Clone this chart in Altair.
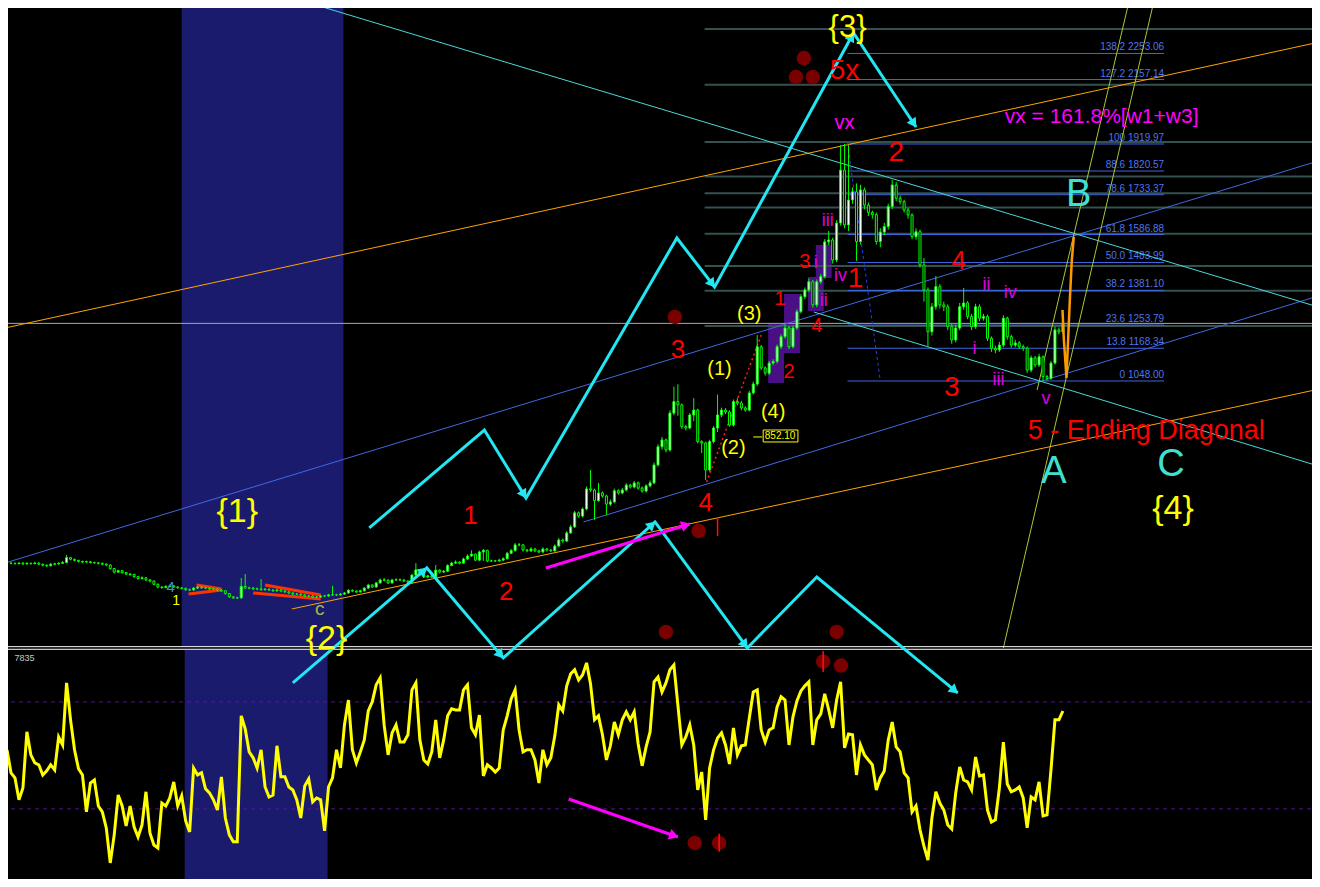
import math
import altair as alt
import pandas as pd

# ------------------------------------------------------------------
# DATA  (x = bar index, y = price for the upper pane, oscillator value below)
# ------------------------------------------------------------------
first_open = 378
close = [
    378, 377, 376, 378, 375, 377, 376, 378, 374, 370,
    368, 374, 375, 377, 380, 398, 392, 388, 384, 382,
    383, 380, 379, 377, 374, 371, 358, 345, 350, 343,
    338, 336, 328, 321, 324, 316, 312, 300, 290, 288,
    292, 294, 290, 287, 285, 280, 279, 286, 290, 287,
    286, 283, 282, 279, 276, 266, 254, 250, 250, 292,
    286, 286, 283, 283, 280, 282, 279, 276, 279, 275,
    272, 268, 264, 264, 261, 257, 257, 253, 253, 257,
    257, 261, 261, 261, 264, 268, 278, 275, 272, 276,
    286, 297, 290, 305, 316, 315, 305, 316, 317, 316,
    312, 308, 334, 353, 334, 327, 331, 327, 352, 345,
    348, 369, 378, 382, 378, 393, 404, 411, 389, 419,
    425, 386, 386, 386, 389, 394, 414, 424, 445, 445,
    426, 423, 430, 423, 419, 430, 426, 423, 441, 463,
    459, 489, 511, 563, 551, 577, 651, 647, 608, 636,
    625, 595, 603, 644, 636, 647, 665, 658, 673, 654,
    643, 662, 673, 739, 806, 831, 794, 930, 972, 960,
    880, 875, 923, 941, 825, 820, 721, 825, 875, 923,
    941, 934, 886, 972, 967, 949, 941, 1004, 1037, 1174,
    1096, 1077, 1114, 1120, 1174, 1211, 1243, 1174, 1243, 1303,
    1358, 1383, 1413, 1328, 1413, 1432, 1560, 1567, 1493, 1629,
    1824, 1622, 1714, 1744, 1561, 1751, 1695, 1668, 1660, 1561,
    1596, 1616, 1690, 1769, 1720, 1708, 1677, 1659, 1579, 1597,
    1475, 1383, 1229, 1321, 1395, 1328, 1321, 1248, 1199, 1243,
    1321, 1335, 1285, 1248, 1321, 1279, 1285, 1205, 1168, 1162,
    1180, 1279, 1211, 1180, 1188, 1174, 1169, 1088, 1133, 1107,
    1137, 1064, 1058, 1114, 1236, 1229, 1261,
]
high = [
    382, 381, 380, 382, 381, 381, 380, 383, 381, 376,
    373, 378, 379, 381, 386, 408, 400, 394, 390, 387,
    387, 386, 383, 382, 380, 377, 373, 360, 354, 352,
    346, 341, 339, 331, 329, 327, 319, 314, 303, 293,
    297, 299, 297, 293, 290, 288, 284, 290, 294, 293,
    291, 289, 287, 285, 282, 279, 268, 257, 254, 323,
    338, 291, 290, 288, 319, 287, 285, 282, 284, 282,
    279, 275, 271, 268, 267, 264, 261, 260, 257, 261,
    261, 265, 294, 265, 268, 272, 282, 281, 278, 280,
    290, 302, 300, 309, 321, 323, 318, 320, 322, 321,
    319, 315, 338, 378, 356, 337, 335, 334, 371, 356,
    353, 374, 383, 388, 385, 398, 410, 425, 413, 424,
    430, 427, 391, 390, 394, 399, 419, 430, 452, 452,
    448, 430, 436, 434, 427, 436, 434, 430, 447, 470,
    468, 496, 519, 570, 568, 583, 660, 720, 652, 673,
    642, 630, 612, 652, 650, 655, 672, 670, 680, 678,
    660, 668, 682, 748, 815, 842, 836, 940, 1027, 1036,
    965, 887, 930, 985, 946, 830, 824, 832, 882, 998,
    950, 948, 940, 980, 985, 975, 955, 1012, 1046, 1217,
    1180, 1102, 1122, 1128, 1182, 1220, 1255, 1250, 1252, 1312,
    1368, 1392, 1425, 1420, 1422, 1442, 1570, 1600, 1575, 1640,
    1916, 1920, 1916, 1760, 1775, 1770, 1760, 1705, 1675, 1668,
    1610, 1630, 1700, 1788, 1780, 1730, 1715, 1685, 1665, 1610,
    1605, 1500, 1392, 1335, 1434, 1405, 1340, 1330, 1258, 1255,
    1335, 1390, 1342, 1295, 1332, 1330, 1295, 1292, 1212, 1178,
    1192, 1290, 1285, 1218, 1200, 1195, 1182, 1175, 1142, 1140,
    1148, 1142, 1070, 1122, 1248, 1245, 1275,
]
low = [
    374, 373, 372, 373, 371, 372, 372, 373, 370, 366,
    363, 366, 371, 372, 375, 378, 388, 384, 380, 378,
    379, 376, 375, 373, 370, 366, 354, 340, 341, 339,
    334, 331, 324, 317, 318, 311, 307, 296, 285, 283,
    285, 289, 286, 283, 281, 276, 275, 276, 283, 283,
    282, 279, 278, 275, 272, 262, 250, 246, 246, 247,
    282, 282, 279, 279, 276, 277, 275, 272, 273, 271,
    268, 264, 260, 260, 257, 253, 253, 249, 249, 250,
    253, 254, 257, 257, 258, 261, 265, 271, 268, 269,
    273, 283, 286, 288, 302, 311, 301, 302, 312, 312,
    308, 304, 305, 331, 330, 323, 323, 323, 324, 340,
    341, 345, 366, 375, 373, 375, 390, 401, 385, 386,
    386, 381, 382, 382, 383, 386, 391, 411, 420, 440,
    420, 418, 419, 418, 414, 415, 421, 418, 420, 437,
    453, 455, 485, 507, 545, 546, 572, 640, 537, 603,
    618, 555, 588, 598, 630, 631, 642, 652, 653, 648,
    637, 638, 657, 668, 733, 795, 785, 788, 922, 920,
    872, 866, 870, 900, 818, 783, 684, 715, 818, 860,
    915, 926, 880, 880, 958, 940, 935, 936, 998, 1030,
    1088, 1068, 1070, 1106, 1112, 1166, 1204, 1165, 1168, 1236,
    1296, 1350, 1376, 1318, 1320, 1405, 1425, 1548, 1480, 1485,
    1620, 1610, 1600, 1700, 1490, 1550, 1680, 1655, 1645, 1550,
    1540, 1585, 1605, 1680, 1710, 1698, 1668, 1645, 1570, 1568,
    1465, 1340, 1174, 1215, 1310, 1315, 1305, 1235, 1185, 1190,
    1235, 1310, 1275, 1235, 1240, 1268, 1270, 1195, 1155, 1150,
    1155, 1172, 1200, 1170, 1172, 1165, 1158, 1078, 1080, 1098,
    1100, 1048, 1050, 1052, 1108, 1220, 1222,
]
osc = [
    52, 43.5, 41.6, 33.4, 37.8, 58.8, 50.2, 47.2, 46.5, 42.7,
    44.2, 46.5, 44.6, 56.9, 53.9, 77.1, 63.3, 52.1, 45, 42.7,
    28.9, 39.7, 40.8, 31.1, 28.9, 22.9, 9.8, 20.3, 35.2, 31.1,
    23.6, 31.1, 23.3, 19.5, 24, 36.4, 21, 16.5, 15.4, 32.2,
    31.1, 34.1, 40.1, 31.1, 34.9, 25.5, 21.4, 45.3, 42.7, 43.5,
    37.5, 36, 33.4, 29.6, 42, 26.6, 20.3, 17.7, 17.7, 64.8,
    59.9, 51.3, 49.1, 45.3, 52.1, 38.2, 34.5, 35.2, 53.6, 42,
    42, 38.2, 37.1, 33.4, 26.6, 38.6, 41.2, 32.6, 34.1, 33.4,
    21.8, 38.2, 41.6, 52.1, 45.3, 61.4, 70.7, 52.1, 47.2, 51.3,
    55.8, 66.6, 70, 76.4, 79, 61.4, 50.2, 58.4, 61.4, 55,
    55, 57.7, 74.5, 77.1, 55.8, 48.3, 46.8, 51.3, 63.3, 49.1,
    55.8, 64.8, 67.4, 67, 67, 74.5, 76.4, 60.3, 57.7, 65.1,
    42.3, 46.5, 45.3, 43.8, 45.3, 59.5, 64.8, 71.1, 74.5, 59.5,
    51.3, 52.1, 52.1, 48.3, 39.7, 52.1, 46.5, 49.1, 57.3, 68.9,
    66.6, 76, 80.5, 82, 78.2, 80.1, 84.6, 76.7, 63.3, 64.8,
    57.7, 48.3, 53.6, 62.5, 57.7, 63.3, 66.3, 63.3, 66.3, 54.3,
    46.1, 53.2, 58.8, 77.5, 79.3, 73.7, 77.1, 82, 83.8, 68.9,
    53.9, 56.9, 61.4, 53.9, 37.1, 43.8, 25.9, 45.3, 52.1, 56.5,
    58.4, 53.9, 46.8, 60.3, 50.2, 53.6, 53.9, 64, 73.7, 74.5,
    59.5, 55, 59.5, 60.3, 68.1, 71.9, 70.7, 53.9, 64.4, 70.4,
    74.1, 76, 77.5, 53.9, 63.3, 65.5, 73, 67, 60.3, 70.7,
    77.5, 52.8, 58, 57.7, 42.7, 53.9, 50.2, 48.3, 46.5, 37.1,
    41.6, 44.2, 55.8, 62.5, 53.2, 51.3, 43.5, 41.6, 28.9, 31.1,
    22.2, 16.1, 10.9, 26.6, 36.4, 32.2, 29.6, 24, 22.5, 36,
    45.7, 40.8, 40.1, 37.1, 49.4, 42.3, 42.7, 29.6, 25.1, 25.9,
    37.8, 55, 39.3, 36.4, 37.1, 38.2, 34.1, 22.9, 34.5, 33.4,
    40.1, 27.4, 27.8, 44.6, 63.3, 63.3, 66.6,
]
osc_levels = [70, 30]

# Fibonacci retracement tool
fib_pct = ["0", "13.8", "23.6", "38.2", "50.0", "61.8", "78.6", "88.6", "100", "127.2", "138.2"]
fib_price = [1048.00, 1168.34, 1253.79, 1381.10, 1483.99, 1586.88, 1733.37, 1820.57, 1919.97, 2157.14, 2253.06]
fib_span = (211.75, 291.5)
grid_price = [2343, 2138, 1927, 1800, 1739, 1686, 1590, 1471, 1380, 1250]
grid_span = (175.75, 330)
hline_price = 1260
hline_span = (-1, 330)

# trend lines / drawn objects: (bar index, price)
channel_upper = [(-0.5, 378.4), (329.5, 1853.7)]
channel_lower = [(145.25, 529.3), (329.5, 1357.0)]
orange_upper = [(-0.5, 1243.0), (329.5, 2291.5)]
orange_lower = [(71.75, 209.2), (329.5, 1014.9)]
cyan_upper = [(74.5, 2446.0), (329.5, 1324.0)]
cyan_lower = [(203.25, 1301.9), (329.5, 739.0)]
fan_1 = [(259.5, 1014.9), (282.75, 2449.7)]
fan_2 = [(251.0, 65.7), (289.0, 2449.7)]
peak_drop = [(211.75, 1923.6), (220.0, 1048.0)]
wave_dotted = [(176.25, 676.0), (190.0, 1217.0)]
live_path = [(265.9, 1309), (266.25, 1199), (266.9, 1059), (267.75, 1346), (268.25, 1493), (268.75, 1578)]
wedge_lines = [
    [(45.75, 264), (54.0, 279)],
    [(47.75, 297.5), (54.0, 283)],
    [(62.0, 268), (79.0, 246)],
    [(65.0, 297.5), (79.0, 260.7)],
]
zigzag_upper = [(91.25, 507.2), (120.25, 867.7), (130.75, 617.6), (168.75, 1574.0),
                (178.25, 1393.8), (213.25, 2328.3), (229.0, 1982.5)]
zigzag_upper_heads = [2, 4, 5, 6]
zigzag_lower = [(72.0, -63.0), (105.75, 360.0), (125.0, 28.9), (163.25, 529.3),
                (186.5, 65.7), (204.0, 326.9), (239.5, -99.8)]
zigzag_lower_heads = [1, 2, 3, 4, 6]
magenta_top = [(135.75, 360.0), (172.0, 522.0)]
magenta_osc = [(141.5, 33.7), (169.0, 19.5)]

dots_price = [(200.75, 2236.3), (198.75, 2166.4), (203.0, 2166.4), (168.25, 1283.5),
              (174.25, 496.2), (166.0, 124.6), (209.0, 124.6)]
dots_osc = [(173.25, 17.3), (179.4, 17.3), (205.6, 85.1), (210.1, 83.6)]
ticks_price = [(179.0, 478.0, 547.7)]
ticks_osc = [(179.4, 14.0, 20.7), (205.6, 81.2, 89.0)]

wave_boxes = [(191.75, 195.75, 1040.6, 1257.7), (195.75, 199.75, 1151.0, 1368.0),
              (201.75, 205.75, 1305.5, 1430.6), (203.75, 207.75, 1427.0, 1548.3)]
band_price = (44.0, 84.75, 70.5, 2460.0)
band_osc = (44.75, 80.75, 0.0, 89.4)
sep_price = [70.5, 60.9]

price_tag = ("852.10", 194.75, 845.7)
price_tag_box = (190.5, 199.25, 823.6, 867.7)
price_tag_dash = [(188.0, 842.0), (190.25, 842.0)]

labels = [
    ("{3}", 211.75, 2345, "brace_top"), ("{1}", 58.0, 566, "brace"),
    ("{2}", 80.5, 100, "brace"), ("{4}", 293.75, 577, "brace"),
    ("(3)", 187.0, 1294.5, "paren"), ("(1)", 179.5, 1092, "paren"),
    ("(4)", 193.0, 934, "paren"), ("(2)", 183.0, 801.5, "paren"),
    ("c", 78.75, 210, "minor_c"), ("4", 41.2, 290, "minor_blue"),
    ("1", 42.6, 240, "minor_yellow"),
    ("5x", 211.0, 2188.5, "red_big"), ("2", 224.0, 1886.8, "red_big"),
    ("1", 213.75, 1423, "red_big"), ("4", 239.75, 1489.5, "red_mid"),
    ("3", 238.0, 1022, "red_big"), ("3", 169.0, 1162, "red_mid"),
    ("1", 116.75, 551, "red_mid"), ("2", 125.75, 271.7, "red_mid"),
    ("4", 176.0, 599, "red_mid"),
    ("1", 194.75, 1349.7, "red_small"), ("3", 201.0, 1485.8, "red_small"),
    ("2", 197.0, 1081, "red_small"), ("4", 204.0, 1250, "red_small"),
    ("5 - Ending Diagonal", 287.0, 864, "red_note"),
    ("vx", 211.0, 1997, "mag"), ("vx = 161.8%[w1+w3]", 275.75, 2019, "mag_note"),
    ("iii", 206.75, 1636.6, "mag_s"), ("iii", 249.75, 1051.7, "mag_s"),
    ("iv", 210.0, 1434, "mag_s"), ("i", 203.75, 1482, "mag_s"),
    ("ii", 205.75, 1342, "mag_s"), ("ii", 246.75, 1401, "mag_s"),
    ("iv", 252.75, 1371.8, "mag_s"), ("i", 243.75, 1165.7, "mag_s"),
    ("v", 261.75, 981.8, "mag_s"),
    ("B", 270.0, 1732, "abc"), ("A", 263.75, 713, "abc"), ("C", 293.25, 739, "abc"),
]
osc_labels = [("7835", 1.9, 86.4)]

# ------------------------------------------------------------------
# STYLES / SCALES
# ------------------------------------------------------------------
W, H = 1304, 871
FONT = "Liberation Sans"
X_DOM = [1.5, 327.5]
P_DOM = [-784.3, 2420.3]
O_DOM = [3.8, 329.4]
XS = alt.Scale(domain=X_DOM, nice=False, zero=False)
PS = alt.Scale(domain=P_DOM, nice=False, zero=False)
OS = alt.Scale(domain=O_DOM, nice=False, zero=False)
px_i = W / (X_DOM[1] - X_DOM[0])
px_p = H / (P_DOM[1] - P_DOM[0])
px_o = H / (O_DOM[1] - O_DOM[0])

label_styles = {
    "brace": ("#ffff00", 34), "brace_top": ("#ffff00", 31), "paren": ("#ffff00", 20),
    "minor_c": ("#a8b848", 19),
    "minor_blue": ("#3a8fe0", 15), "minor_yellow": ("#ffff00", 14),
    "red_big": ("#ff0000", 28), "red_mid": ("#ff0000", 26), "red_small": ("#ff0000", 20),
    "red_note": ("#ff0000", 27), "mag": ("#ff00ff", 20), "mag_note": ("#ff00ff", 21),
    "mag_s": ("#e000e0", 18), "abc": ("#40e0d0", 38),
}


def xq(f="i"):
    return alt.X(f"{f}:Q", scale=XS, axis=None)


def yp(f="p"):
    return alt.Y(f"{f}:Q", scale=PS, axis=None)


def yo(f="p"):
    return alt.Y(f"{f}:Q", scale=OS, axis=None)


def path_df(paths):
    rows = []
    for pid, pts in enumerate(paths):
        for k, (i, p) in enumerate(pts):
            rows.append({"id": pid, "k": k, "i": i, "p": p})
    return pd.DataFrame(rows)


def line_layer(paths, color, width, ych=yp, dash=None):
    kw = dict(color=color, strokeWidth=width, clip=True)
    if dash:
        kw["strokeDash"] = dash
    return alt.Chart(path_df(paths)).mark_line(**kw).encode(
        x=xq(), y=ych(), detail="id:N", order="k:Q")


def heads_df(pts, idxs, ppy):
    rows = []
    for k in idxs:
        (i0, p0), (i1, p1) = pts[k - 1], pts[k]
        dx = (i1 - i0) * px_i
        dy = -(p1 - p0) * ppy
        L = math.hypot(dx, dy)
        ux, uy = dx / L, dy / L
        ang = (math.degrees(math.atan2(ux, -uy)) + 360) % 360
        rows.append({"i": i1 - ux * 4 / px_i, "p": p1 + uy * 4 / ppy, "ang": ang})
    return pd.DataFrame(rows)


def head_layer(pts, idxs, color, ych=yp, ppy=px_p, size=120):
    return alt.Chart(heads_df(pts, idxs, ppy)).mark_point(
        shape="triangle-up", filled=True, size=size, color=color, opacity=1).encode(
        x=xq(), y=ych(), angle=alt.Angle("ang:Q", scale=None))


layers = []

# blue time band
layers.append(alt.Chart(pd.DataFrame([dict(zip(["i", "i2", "p", "p2"], band_price))]))
              .mark_rect(color="#1b1b6e", clip=True)
              .encode(x=xq(), x2="i2:Q", y=yp(), y2="p2:Q"))
layers.append(alt.Chart(pd.DataFrame([dict(zip(["i", "i2", "p", "p2"], band_osc))]))
              .mark_rect(color="#1b1b6e", clip=True)
              .encode(x=xq(), x2="i2:Q", y=yo(), y2="p2:Q"))

# purple wave boxes
layers.append(alt.Chart(pd.DataFrame(wave_boxes, columns=["i", "i2", "p", "p2"]))
              .mark_rect(color="#4b0f85")
              .encode(x=xq(), x2="i2:Q", y=yp(), y2="p2:Q"))

# grey level lines
layers.append(alt.Chart(pd.DataFrame({"p": grid_price, "i": grid_span[0], "i2": grid_span[1]}))
              .mark_rule(color="#34504f", strokeWidth=2, clip=True)
              .encode(x=xq(), x2="i2:Q", y=yp()))
layers.append(alt.Chart(pd.DataFrame({"p": [hline_price], "i": hline_span[0], "i2": hline_span[1]}))
              .mark_rule(color="#a8a8a8", strokeWidth=1, clip=True)
              .encode(x=xq(), x2="i2:Q", y=yp()))

# fibonacci
fib_df = pd.DataFrame({"p": fib_price, "i": fib_span[0], "i2": fib_span[1],
                       "t": [f"{a} {b:.2f}" for a, b in zip(fib_pct, fib_price)]})
layers.append(alt.Chart(fib_df).mark_rule(color="#3f66e0", strokeWidth=1)
              .encode(x=xq(), x2="i2:Q", y=yp()))
layers.append(alt.Chart(fib_df).mark_text(align="right", baseline="bottom", dy=-1, fontSize=10,
                                          font=FONT, color="#4f74ee")
              .encode(x=xq("i2"), y=yp(), text="t:N"))

# thin trend lines
layers.append(line_layer([channel_upper, channel_lower], "#4169e1", 1))
layers.append(line_layer([orange_upper, orange_lower], "#ffa500", 1))
layers.append(line_layer([cyan_upper, cyan_lower], "#4ad8d8", 1))
layers.append(line_layer([fan_1, fan_2], "#a8c838", 1))
layers.append(line_layer([peak_drop], "#2040ff", 1, dash=[3, 3]))
layers.append(line_layer([wave_dotted], "#ff2020", 1.5, dash=[2, 3]))
layers.append(line_layer(wedge_lines, "#ff3300", 3))

# oscillator pane
layers.append(alt.Chart(pd.DataFrame({"p": osc_levels, "i": -1, "i2": 330}))
              .mark_rule(color="#5a14a0", strokeWidth=1, strokeDash=[4, 4], clip=True)
              .encode(x=xq(), x2="i2:Q", y=yo()))
layers.append(alt.Chart(pd.DataFrame({"i": range(len(osc)), "p": osc}))
              .mark_line(color="#ffff00", strokeWidth=3, clip=True)
              .encode(x=xq(), y=yo()))

# candles
opens = [first_open] + close[:-1]
bars = pd.DataFrame({"i": range(len(close)), "o": opens, "c": close, "h": high, "l": low})
bars["top"] = bars[["o", "c"]].max(axis=1)
bars["bot"] = bars[["o", "c"]].min(axis=1)
bars["up"] = bars["c"] >= bars["o"]
layers.append(alt.Chart(bars).mark_rule(color="#00ff00", strokeWidth=1, clip=True)
              .encode(x=xq(), y=yp("l"), y2="h:Q"))
layers.append(alt.Chart(bars).mark_bar(size=2, stroke="#00ff00", strokeWidth=1, clip=True)
              .encode(x=xq(), y=yp("bot"), y2="top:Q",
                      fill=alt.condition("datum.up", alt.value("#ffffff"), alt.value("#000000"))))
layers.append(line_layer([live_path], "#ff9900", 2.5))

# pane separator
layers.append(alt.Chart(pd.DataFrame({"p": sep_price, "i": -1, "i2": 330}))
              .mark_rule(color="#ffffff", strokeWidth=1, clip=True)
              .encode(x=xq(), x2="i2:Q", y=yp()))

# price tag 852.10
layers.append(alt.Chart(pd.DataFrame([dict(zip(["i", "i2", "p", "p2"], price_tag_box))]))
              .mark_rect(fill="#000000", stroke="#ffff00", strokeWidth=1)
              .encode(x=xq(), x2="i2:Q", y=yp(), y2="p2:Q"))
layers.append(line_layer([price_tag_dash], "#ffff00", 1))
layers.append(alt.Chart(pd.DataFrame([dict(zip(["t", "i", "p"], price_tag))]))
              .mark_text(fontSize=10, font=FONT, color="#ffff00", baseline="middle")
              .encode(x=xq(), y=yp(), text="t:N"))

# dark red dots and ticks
layers.append(alt.Chart(pd.DataFrame(dots_price, columns=["i", "p"]))
              .mark_circle(color="#7a0000", size=210, opacity=1).encode(x=xq(), y=yp()))
layers.append(alt.Chart(pd.DataFrame(dots_osc, columns=["i", "p"]))
              .mark_circle(color="#7a0000", size=210, opacity=1).encode(x=xq(), y=yo()))
layers.append(alt.Chart(pd.DataFrame(ticks_price, columns=["i", "p", "p2"]))
              .mark_rule(color="#ff1010", strokeWidth=1.5).encode(x=xq(), y=yp(), y2="p2:Q"))
layers.append(alt.Chart(pd.DataFrame(ticks_osc, columns=["i", "p", "p2"]))
              .mark_rule(color="#ff1010", strokeWidth=1.5).encode(x=xq(), y=yo(), y2="p2:Q"))

# cyan zig-zag projections
layers.append(line_layer([zigzag_upper, zigzag_lower], "#22e6f2", 3))
layers.append(head_layer(zigzag_upper, zigzag_upper_heads, "#22e6f2"))
layers.append(head_layer(zigzag_lower, zigzag_lower_heads, "#22e6f2"))

# magenta divergence arrows
layers.append(line_layer([magenta_top], "#ff00ff", 3))
layers.append(head_layer(magenta_top, [1], "#ff00ff"))
layers.append(line_layer([magenta_osc], "#ff00ff", 3, ych=yo))
layers.append(head_layer(magenta_osc, [1], "#ff00ff", ych=yo, ppy=px_o))

# wave labels
lab_df = pd.DataFrame(labels, columns=["t", "i", "p", "style"])
lab_df["col"] = lab_df["style"].map(lambda s: label_styles[s][0])
lab_df["fs"] = lab_df["style"].map(lambda s: label_styles[s][1])
layers.append(alt.Chart(lab_df).mark_text(font=FONT, baseline="middle", align="center")
              .encode(x=xq(), y=yp(), text="t:N",
                      color=alt.Color("col:N", scale=None),
                      size=alt.Size("fs:Q", scale=None)))
layers.append(alt.Chart(pd.DataFrame(osc_labels, columns=["t", "i", "p"]))
              .mark_text(font=FONT, fontSize=9, color="#c8c8c8", align="left", baseline="middle")
              .encode(x=xq(), y=yo(), text="t:N"))

chart = (alt.layer(*layers)
         .resolve_scale(y="independent")
         .properties(width=W, height=H, background="#000000", padding=0,
                     autosize=alt.AutoSizeParams(type="none"))
         .configure_view(stroke=None))

chart.save("out.html", embed_options={"renderer": "svg", "actions": False})
